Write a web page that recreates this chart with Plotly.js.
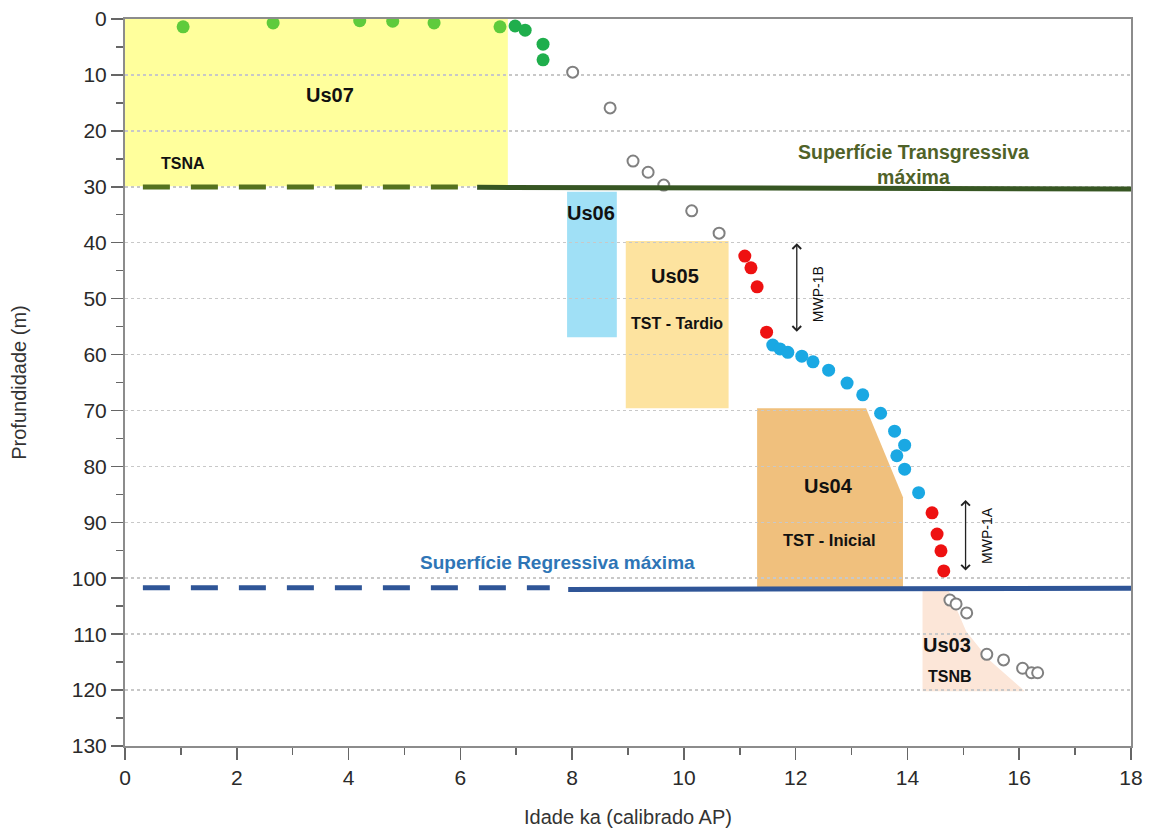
<!DOCTYPE html>
<html>
<head>
<meta charset="utf-8">
<script src="https://cdn.plot.ly/plotly-3.0.1.min.js"></script>
<style>html,body{margin:0;padding:0;background:#fff;}#chart{width:1157px;height:831px;}</style>
</head>
<body>
<div id="chart"></div>
<script>
// ---- data (age ka, depth m) ----
const lightGreenAge   = [1.04, 2.65, 4.2, 4.79, 5.53, 6.71];
const lightGreenDepth = [1.4, 0.7, 0.3, 0.4, 0.7, 1.4];
const darkGreenAge    = [6.98, 7.16, 7.48, 7.48];
const darkGreenDepth  = [1.25, 2.0, 4.5, 7.3];
const openUpperAge    = [8.01, 8.68, 9.09, 9.36, 9.64, 10.14, 10.63];
const openUpperDepth  = [9.5, 15.9, 25.4, 27.4, 29.7, 34.3, 38.3];
const redBAge         = [11.09, 11.2, 11.31, 11.48];
const redBDepth       = [42.4, 44.5, 47.9, 56.0];
const blueAge         = [11.59, 11.72, 11.86, 12.11, 12.31, 12.59, 12.92, 13.2, 13.52, 13.77, 13.95, 13.81, 13.95, 14.2];
const blueDepth       = [58.3, 59.0, 59.6, 60.3, 61.3, 62.8, 65.1, 67.2, 70.5, 73.7, 76.2, 78.1, 80.5, 84.7];
const redAAge         = [14.44, 14.53, 14.6, 14.65];
const redADepth       = [88.3, 92.1, 95.1, 98.7];
const openLowerAge    = [14.76, 14.87, 15.06, 15.42, 15.72, 16.06, 16.22, 16.33];
const openLowerDepth  = [103.9, 104.6, 106.2, 113.6, 114.6, 116.1, 116.9, 116.9];

const xTicks = [0, 2, 4, 6, 8, 10, 12, 14, 16, 18];
const yTicks = [0, 10, 20, 30, 40, 50, 60, 70, 80, 90, 100, 110, 120, 130];

const filled = (x, y, c) => ({x, y, type:'scatter', mode:'markers', hoverinfo:'skip',
  marker:{size:13, color:c, line:{width:0}}});
const open = (x, y) => ({x, y, type:'scatter', mode:'markers', hoverinfo:'skip',
  marker:{size:11, color:'rgba(255,255,255,1)', line:{width:2, color:'#808080'}}});

const traces = [
  open(openUpperAge, openUpperDepth),
  open(openLowerAge, openLowerDepth),
  filled(lightGreenAge, lightGreenDepth, '#5fcb3c'),
  filled(darkGreenAge, darkGreenDepth, '#1fae4c'),
  filled(redBAge, redBDepth, '#ee1111'),
  filled(blueAge, blueDepth, '#1aa8e3'),
  filled(redAAge, redADepth, '#ee1111')
];

const poly = (pts) => 'M' + pts.map(p => p[0] + ',' + p[1]).join('L') + 'Z';

const shapes = [
  {type:'rect', xref:'x', yref:'y', x0:0, x1:6.85, y0:0, y1:29.9, fillcolor:'#ffff9c', line:{width:0}, layer:'below'},
  {type:'rect', xref:'x', yref:'y', x0:7.91, x1:8.8, y0:30.9, y1:56.9, fillcolor:'#a0e0f6', line:{width:0}, layer:'below'},
  {type:'rect', xref:'x', yref:'y', x0:8.96, x1:10.8, y0:39.7, y1:69.6, fillcolor:'#fde39f', line:{width:0}, layer:'below'},
  {type:'path', xref:'x', yref:'y', path:poly([[11.31,69.6],[13.26,69.6],[13.92,85.5],[13.92,101.6],[11.31,101.6]]), fillcolor:'#f0c07d', line:{width:0}, layer:'below'},
  {type:'path', xref:'x', yref:'y', path:poly([[14.27,101.8],[14.72,101.8],[15.05,109.5],[15.45,114.5],[16.1,120.2],[14.27,120.2]]), fillcolor:'#fce6d8', line:{width:0}, layer:'below'},
  {type:'line', xref:'x', yref:'y', x0:0.32, x1:6.3, y0:30.05, y1:30.05, line:{color:'#55721f', width:5, dash:'27px,21px'}},
  {type:'line', xref:'x', yref:'y', x0:6.3, x1:18, y0:30.1, y1:30.4, line:{color:'#375623', width:5}},
  {type:'line', xref:'x', yref:'y', x0:0.32, x1:7.6, y0:101.7, y1:101.7, line:{color:'#2f5597', width:5, dash:'27px,21px'}},
  {type:'line', xref:'x', yref:'y', x0:7.93, x1:18, y0:102.0, y1:101.8, line:{color:'#2f5597', width:5}}
];

const txt = (x, y, t, size, color, extra) => Object.assign({x, y, xref:'x', yref:'y', text:t, showarrow:false,
  font:{family:'Liberation Sans, Arial, sans-serif', size:size, color:color||'#111'}}, extra||{});

const annotations = [
  txt(3.67, 13.6, '<b>Us07</b>', 20),
  txt(1.04, 25.8, '<b>TSNA</b>', 16),
  txt(14.1, 26.1, '<b>Superfície Transgressiva<br>máxima</b>', 19.5, '#4f6228'),
  txt(8.34, 34.7, '<b>Us06</b>', 20),
  txt(9.84, 46.0, '<b>Us05</b>', 20),
  txt(9.87, 54.5, '<b>TST - Tardio</b>', 16),
  txt(12.58, 83.5, '<b>Us04</b>', 20),
  txt(12.61, 93.2, '<b>TST - Inicial</b>', 16.5),
  txt(14.7, 112.0, '<b>Us03</b>', 20),
  txt(14.76, 117.5, '<b>TSNB</b>', 16),
  txt(7.73, 97.1, '<b>Superfície Regressiva máxima</b>', 19, '#2e75b6'),
  txt(12.4, 49.2, 'MWP-1B', 14, '#111', {textangle:-90}),
  txt(15.42, 92.3, 'MWP-1A', 14, '#111', {textangle:-90}),
  {x:12.02, y:40.1, ax:12.02, ay:56.2, xref:'x', yref:'y', axref:'x', ayref:'y', text:'', showarrow:true,
   arrowhead:4, startarrowhead:4, arrowside:'end+start', arrowsize:1.3, startarrowsize:1.3, arrowwidth:1.3, arrowcolor:'#222'},
  {x:15.04, y:86.0, ax:15.04, ay:98.9, xref:'x', yref:'y', axref:'x', ayref:'y', text:'', showarrow:true,
   arrowhead:4, startarrowhead:4, arrowside:'end+start', arrowsize:1.3, startarrowsize:1.3, arrowwidth:1.3, arrowcolor:'#222'}
];

const tickFont = {family:'Liberation Sans, Arial, sans-serif', size:21, color:'#2a2a2a'};
const titleFont = {family:'Liberation Sans, Arial, sans-serif', size:20, color:'#333'};

const layout = {
  width:1157, height:831,
  margin:{l:125, r:26, t:19, b:85},
  paper_bgcolor:'#fff', plot_bgcolor:'rgba(0,0,0,0)',
  showlegend:false,
  xaxis:{range:[0,18], tickvals:xTicks, ticktext:xTicks.map(String), ticks:'outside', ticklen:12, tickwidth:1.5, tickcolor:'#666',
    minor:{dtick:1, ticks:'outside', ticklen:7, tickwidth:1.5, tickcolor:'#666', showgrid:false},
    showgrid:false, zeroline:false, showline:true, linecolor:'#8c8c8c', linewidth:2, mirror:true,
    tickfont:tickFont,
    title:{text:'Idade ka (calibrado AP)', font:titleFont, standoff:22}},
  yaxis:{range:[130,0], tickvals:yTicks, ticktext:yTicks.map(String), ticks:'outside', ticklen:12, tickwidth:1.5, tickcolor:'#666',
    minor:{dtick:5, ticks:'outside', ticklen:7, tickwidth:1.5, tickcolor:'#666', showgrid:false},
    showgrid:true, gridcolor:'#c8c8c8', griddash:'dot', gridwidth:1.5, zeroline:false,
    showline:true, linecolor:'#8c8c8c', linewidth:2, mirror:true,
    tickfont:tickFont,
    title:{text:'Profundidade (m)', font:titleFont, standoff:40}},
  shapes, annotations
};

Plotly.newPlot('chart', traces, layout, {displayModeBar:false, staticPlot:true});
</script>
</body>
</html>
